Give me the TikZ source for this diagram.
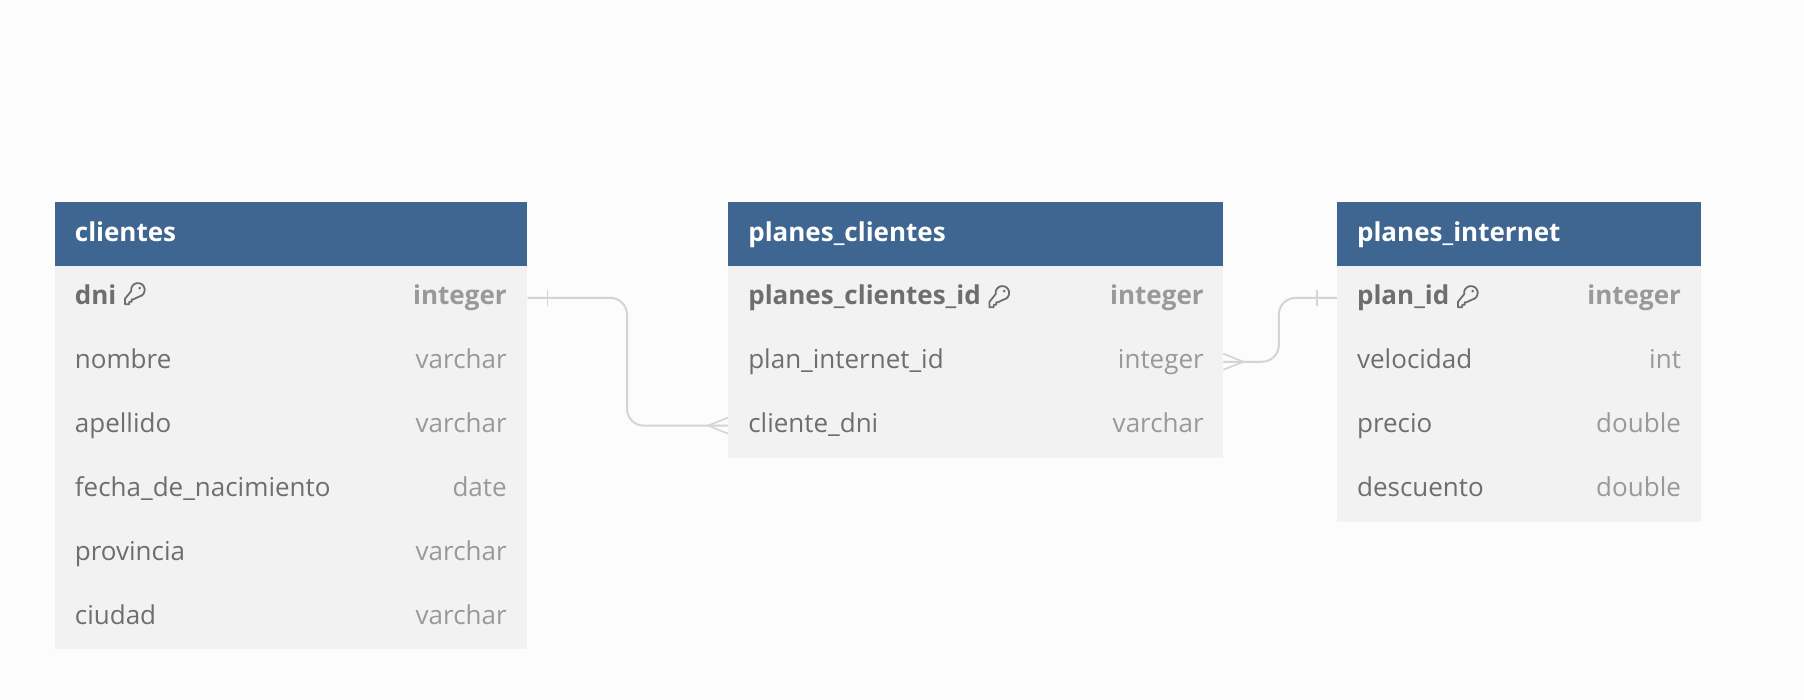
\documentclass[tikz,border=0pt]{standalone}
\usepackage{fontspec}
\setmainfont{Open Sans}
\usepackage{xcolor}
\definecolor{pagebg}{HTML}{FCFCFC}
\definecolor{headblue}{HTML}{3F6591}
\definecolor{rowgray}{HTML}{F2F2F2}
\definecolor{nametext}{HTML}{6E6E6E}
\definecolor{typetext}{HTML}{999999}
\definecolor{linkgray}{HTML}{D4D4D4}
\tikzset{
  headbox/.style={rectangle, fill=headblue, anchor=north west, inner sep=0pt, minimum height=1.6cm},
  headname/.style={anchor=base west, inner sep=0pt, text=white, font=\fontsize{18.5}{20}\selectfont\bfseries},
  rowbox/.style={rectangle, fill=rowgray, anchor=north west, inner sep=0pt, minimum height=1.6cm},
  fieldname/.style={anchor=base west, inner sep=0pt, text=nametext, font=\fontsize{18.5}{20}\selectfont},
  fieldtype/.style={anchor=base east, inner sep=0pt, text=typetext, font=\fontsize{18.5}{20}\selectfont},
  link/.style={draw=linkgray, line width=0.05cm, rounded corners=0.42cm},
  tick/.style={draw=linkgray, line width=0.04cm},
  keyicon/.pic={
    \draw[nametext, line width=0.045cm, line join=round]
      (-0.27,-0.29)--(-0.27,-0.14)--(-0.097,0.077) arc (190:-80:0.19) --(-0.03,-0.15)--(-0.08,-0.15)--(-0.08,-0.22)--(-0.15,-0.22)--(-0.15,-0.29)--cycle;
    \fill[nametext] (0.14,0.16) circle [radius=0.04];
  }
}

\begin{document}
\begin{tikzpicture}

\fill[pagebg] (0,0) rectangle (45.1,17.5);
\useasboundingbox (0,0) rectangle (45.1,17.5);

% clientes
\begin{scope}[xshift=1.375cm, yshift=12.45cm]
{
\node[rowbox, minimum width=11.8cm] (clientes-dni) at (0,-1.59) {};
\node[fieldname] (clientes-dni-name) at (0.49,-2.57) {\bfseries dni};
\node[fieldtype] (clientes-dni-type) at (11.3,-2.57) {\bfseries integer};
\pic[scale=0.9] at ([xshift=0.45cm,yshift=0.03cm]clientes-dni-name.east) {keyicon};

\foreach \n/\fname/\ftype in {1/nombre/varchar, 2/apellido/varchar, 3/fecha\_de\_nacimiento/date, 4/provincia/varchar, 5/ciudad/varchar}
{
\node[rowbox, minimum width=11.8cm] (clientes-\n) at (0,-1.59-1.597*\n) {};
\node[fieldname] (clientes-\n-name) at (0.49,-2.57-1.597*\n) {\fname};
\node[fieldtype] (clientes-\n-type) at (11.3,-2.57-1.597*\n) {\ftype};
}

\node[headbox, minimum width=11.8cm] (clientes) at (0,0) {};
\node[headname] (clientes-title) at (0.49,-1.0) {clientes};
}
\end{scope}

% planes_clientes
\begin{scope}[xshift=18.2cm, yshift=12.45cm]
{
\node[rowbox, minimum width=12.37cm] (planescli-id) at (0,-1.59) {};
\node[fieldname] (planescli-id-name) at (0.5,-2.57) {\bfseries planes\_clientes\_id};
\node[fieldtype] (planescli-id-type) at (11.9,-2.57) {\bfseries integer};
\pic[scale=0.9] at ([xshift=0.45cm,yshift=0.03cm]planescli-id-name.east) {keyicon};

\foreach \n/\fname/\ftype in {1/plan\_internet\_id/integer, 2/cliente\_dni/varchar}
{
\node[rowbox, minimum width=12.37cm] (planescli-\n) at (0,-1.59-1.597*\n) {};
\node[fieldname] (planescli-\n-name) at (0.5,-2.57-1.597*\n) {\fname};
\node[fieldtype] (planescli-\n-type) at (11.9,-2.57-1.597*\n) {\ftype};
}

\node[headbox, minimum width=12.37cm] (planescli) at (0,0) {};
\node[headname] (planescli-title) at (0.5,-1.0) {planes\_clientes};
}
\end{scope}

% planes_internet
\begin{scope}[xshift=33.42cm, yshift=12.45cm]
{
\node[rowbox, minimum width=9.105cm] (planesint-id) at (0,-1.59) {};
\node[fieldname] (planesint-id-name) at (0.5,-2.57) {\bfseries plan\_id};
\node[fieldtype] (planesint-id-type) at (8.61,-2.57) {\bfseries integer};
\pic[scale=0.9] at ([xshift=0.45cm,yshift=0.03cm]planesint-id-name.east) {keyicon};

\foreach \n/\fname/\ftype in {1/velocidad/int, 2/precio/double, 3/descuento/double}
{
\node[rowbox, minimum width=9.105cm] (planesint-\n) at (0,-1.59-1.597*\n) {};
\node[fieldname] (planesint-\n-name) at (0.5,-2.57-1.597*\n) {\fname};
\node[fieldtype] (planesint-\n-type) at (8.61,-2.57-1.597*\n) {\ftype};
}

\node[headbox, minimum width=9.105cm] (planesint) at (0,0) {};
\node[headname] (planesint-title) at (0.5,-1.0) {planes\_internet};
}
\end{scope}

% links
\coordinate (midleft) at (15.675,0);
\coordinate (midright) at (31.97,0);

\draw[link] (clientes-dni.east)--(clientes-dni.east -| midleft)--(planescli-2.west -| midleft)--(planescli-2.west);
\draw[tick] ([xshift=0.5cm,yshift=0.2cm]clientes-dni.east)--([xshift=0.5cm,yshift=-0.2cm]clientes-dni.east);
\draw[tick] ([xshift=-0.5cm]planescli-2.west)--([yshift=0.2cm]planescli-2.west);
\draw[tick] ([xshift=-0.5cm]planescli-2.west)--([yshift=-0.2cm]planescli-2.west);

\draw[link] (planescli-1.east)--(planescli-1.east -| midright)--(planesint-id.west -| midright)--(planesint-id.west);
\draw[tick] ([xshift=0.5cm]planescli-1.east)--([yshift=0.2cm]planescli-1.east);
\draw[tick] ([xshift=0.5cm]planescli-1.east)--([yshift=-0.2cm]planescli-1.east);
\draw[tick] ([xshift=-0.5cm,yshift=0.2cm]planesint-id.west)--([xshift=-0.5cm,yshift=-0.2cm]planesint-id.west);

\end{tikzpicture}
\end{document}
